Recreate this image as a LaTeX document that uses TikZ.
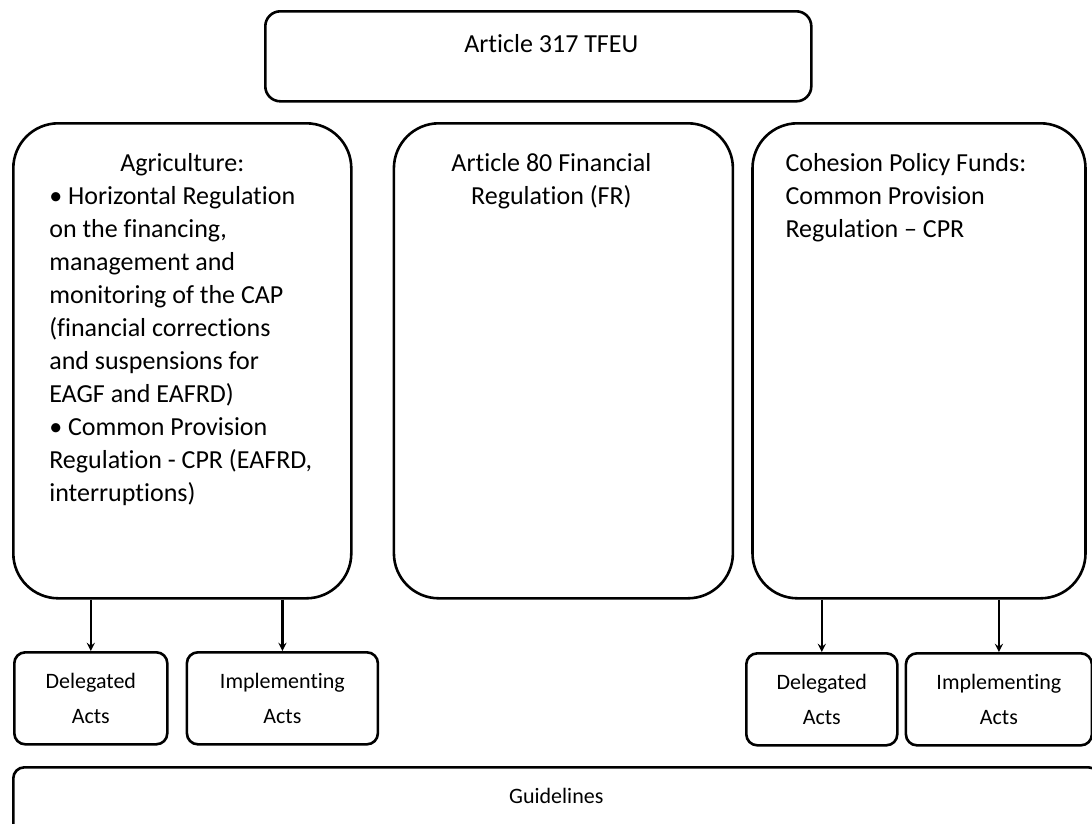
\documentclass[tikz,border=0pt]{standalone}
\usepackage{fontspec}
\setmainfont{Carlito}[Ligatures={NoCommon}]
\usetikzlibrary{shapes,arrows,positioning}

\begin{document}
\begin{tikzpicture}[
    x=1pt, y=-1pt,
    node distance=17pt,
    bigbox/.style={rectangle, draw=black, line width=2.6pt, rounded corners=45pt, anchor=north west,
                   inner ysep=30pt, font=\fontsize{26}{33}\selectfont},
    actbox/.style={rectangle, draw=black, line width=2.6pt, rounded corners=11pt, align=center,
                   minimum height=92pt, inner sep=0pt, font=\fontsize{22}{35}\selectfont},
    arrow/.style={->, >=stealth, line width=2.6pt}
]
    \useasboundingbox (0,0) rectangle (1092,823);

    \node[rectangle, draw=black, line width=2.6pt, rounded corners=15pt, anchor=north west,
          minimum width=546pt, inner ysep=0pt, text height=41pt, text depth=49pt,
          font=\fontsize{26}{33}\selectfont] (tfeu) at (264,10) {\hspace*{26pt}Article 317 TFEU};

    \node[bigbox, inner xsep=36pt] (agri) at (12,122) {\parbox[t][415pt][t]{266pt}{%
        {\centering Agriculture:\par}\raggedright
        • Horizontal Regulation\\ on the financing,\\ management and\\ monitoring of the CAP\\
        (financial corrections\\ and suspensions for\\ EAGF and EAFRD)\\
        • Common Provision\\ Regulation - CPR (EAFRD,\\ interruptions)}};
    \node[bigbox, inner xsep=33pt, right=40pt of agri.north east, anchor=north west] (finreg) {\parbox[t][415pt][t]{273pt}{%
        \centering\rightskip=24pt plus 1fil Article 80 Financial\\ Regulation (FR)}};
    \node[bigbox, inner xsep=33pt, right=17pt of finreg.north east, anchor=north west] (cohesion) {\parbox[t][415pt][t]{267pt}{%
        \raggedright Cohesion Policy Funds:\\ Common Provision\\ Regulation – CPR}};

    % acts below agriculture and cohesion
    \node[actbox, minimum width=153pt, anchor=north west] (delegL) at (13,651) {Delegated\\Acts};
    \node[actbox, minimum width=191pt, right=of delegL] (implL) {Implementing\\Acts};
    \node[actbox, minimum width=151pt, anchor=north west] (delegR) at (745,652) {Delegated\\Acts};
    \node[actbox, minimum width=186pt, right=6pt of delegR] (implR) {Implementing\\Acts};

    \node[rectangle, draw=black, line width=2.6pt, rounded corners=11pt, anchor=north west,
          minimum width=1086pt, inner ysep=0pt, text height=36pt, text depth=44pt,
          font=\fontsize{22}{24}\selectfont] (guide) at (12,766) {Guidelines};

    \draw[arrow] (agri.south -| delegL.north) -- (delegL.north);
    \draw[arrow] (agri.south -| implL.north) -- (implL.north);
    \draw[arrow] (cohesion.south -| delegR.north) -- (delegR.north);
    \draw[arrow] (cohesion.south -| implR.north) -- (implR.north);
\end{tikzpicture}
\end{document}
